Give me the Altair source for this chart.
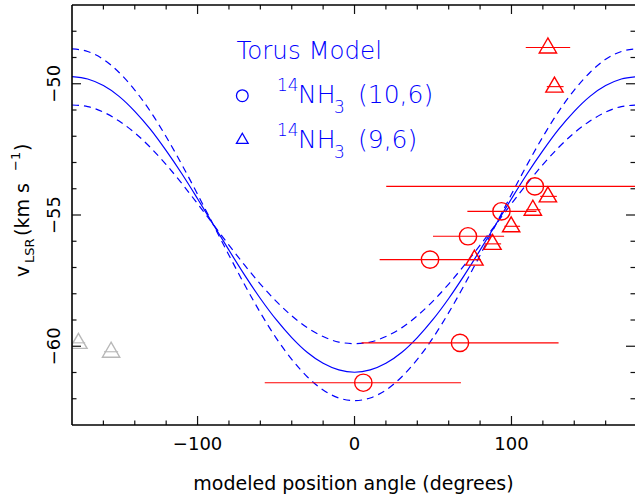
import altair as alt
import pandas as pd

FONT = "DejaVu Sans"
BLUE = "#0000ff"
RED = "#ff0000"
GREY = "#b8b8b8"

# ---------------- data ----------------
# torus model curves (modeled position angle, v_LSR)
pa_grid = [-180, -170, -160, -150, -140, -130, -120, -110, -100, -90,
           -80, -70, -60, -50, -40, -30, -20, -10, 0,
           10, 20, 30, 40, 50, 60, 70, 80, 90,
           100, 110, 120, 130, 140, 150, 160, 170, 180]
v_torus = [-49.73, -49.82, -50.07, -50.48, -51.05, -51.74, -52.55, -53.43, -54.38, -55.36,
           -56.34, -57.29, -58.18, -58.98, -59.67, -60.24, -60.65, -60.90, -60.99,
           -60.90, -60.65, -60.24, -59.67, -58.98, -58.18, -57.29, -56.34, -55.36,
           -54.38, -53.43, -52.55, -51.74, -51.05, -50.48, -50.07, -49.82, -49.73]
v_torus_wide = [-48.67, -48.77, -49.07, -49.57, -50.24, -51.06, -52.02, -53.08, -54.21, -55.37,
                -56.53, -57.66, -58.72, -59.68, -60.50, -61.17, -61.67, -61.97, -62.07,
                -61.97, -61.67, -61.17, -60.50, -59.68, -58.72, -57.66, -56.53, -55.37,
                -54.21, -53.08, -52.02, -51.06, -50.24, -49.57, -49.07, -48.77, -48.67]
v_torus_narrow = [-50.81, -50.87, -51.08, -51.42, -51.87, -52.43, -53.08, -53.80, -54.57, -55.36,
                  -56.15, -56.91, -57.63, -58.28, -58.84, -59.30, -59.63, -59.84, -59.90,
                  -59.84, -59.63, -59.30, -58.84, -58.28, -57.63, -56.91, -56.15, -55.36,
                  -54.57, -53.80, -53.08, -52.43, -51.87, -51.42, -51.08, -50.87, -50.81]

# 14NH3 (10,6) circles
c106_pa = [5.6, 67.2, 48.1, 72.3, 93.6, 114.9]
c106_v = [-61.39, -59.87, -56.70, -55.81, -54.86, -53.91]
c106_lo = [-57.2, 4.5, 16.0, 50.0, 71.9, 20.2]
c106_hi = [67.8, 130.0, 80.0, 95.3, 115.9, 209.6]

# 14NH3 (9,6) triangles
t96_pa = [123.2, 127.4, 123.2, 113.6, 99.8, 87.9, 76.4]
t96_v = [-48.62, -50.11, -54.29, -54.80, -55.43, -56.10, -56.70]
t96_lo = [109.1, 122.5, 118.3, 109.5, 95.5, 82.8, 72.5]
t96_hi = [137.4, 133.2, 128.9, 118.5, 105.5, 93.4, 80.5]

# grey (9,6) triangles
grey_pa = [-175.9, -155.1]
grey_v = [-59.87, -60.21]
grey_lo = [-180.0, -159.6]
grey_hi = [-171.6, -150.6]

# axis ticks and tick labels
x_major = [-100, 0, 100]
x_major_labels = ["\u2212100", "0", "100"]
x_minor = [-160, -140, -120, -80, -60, -40, -20, 20, 40, 60, 80, 120, 140, 160]
y_major = [-60, -55, -50]
y_major_labels = ["\u221260", "\u221255", "\u221250"]
y_minor = [-62, -61, -59, -58, -57, -56, -54, -53, -52, -51, -49, -48]

# ---------------- chart ----------------
W, H = 563, 420
xs = alt.Scale(domain=[-180, 178.7], nice=False, zero=False)
ys = alt.Scale(domain=[-63, -47], nice=False, zero=False)


def X(f):
    return alt.X(f, scale=xs, axis=None)


def Y(f):
    return alt.Y(f, scale=ys, axis=None)


solid_df = pd.DataFrame({"pa": pa_grid, "v": v_torus})
dash_df = pd.DataFrame({"pa": pa_grid * 2, "v": v_torus_wide + v_torus_narrow,
                        "m": ["wide"] * len(pa_grid) + ["narrow"] * len(pa_grid)})

solid = alt.Chart(solid_df).mark_line(color=BLUE, strokeWidth=1.2, interpolate="monotone", clip=True).encode(
    x=X("pa:Q"), y=Y("v:Q"))
dashed = alt.Chart(dash_df).mark_line(color=BLUE, strokeWidth=1.2, strokeDash=[7, 5],
                                      interpolate="monotone", clip=True).encode(
    x=X("pa:Q"), y=Y("v:Q"), detail="m:N")

c_df = pd.DataFrame({"pa": c106_pa, "v": c106_v, "lo": c106_lo, "hi": c106_hi})
t_df = pd.DataFrame({"pa": t96_pa, "v": t96_v, "lo": t96_lo, "hi": t96_hi})
g_df = pd.DataFrame({"pa": grey_pa, "v": grey_v, "lo": grey_lo, "hi": grey_hi})


def bars(df, color):
    return alt.Chart(df).mark_rule(color=color, strokeWidth=1.1, clip=True).encode(
        x=X("lo:Q"), x2="hi:Q", y=Y("v:Q"))


def pts(df, color, shape, yoff=0):
    return alt.Chart(df).mark_point(shape=shape, filled=False, size=300, strokeWidth=1.4,
                                    color=color, opacity=1, yOffset=yoff, clip=True).encode(
        x=X("pa:Q"), y=Y("v:Q"))


one = alt.Data(values=[{"a": 1}])


def txt(s, x, y, size, color, angle=0, weight="normal"):
    return alt.Chart(one).mark_text(text=s, font=FONT, fontSize=size, color=color, angle=angle,
                                    align="left", baseline="alphabetic", fontWeight=weight).encode(
        x=alt.value(x), y=alt.value(y))


def sym(shape, x, y):
    return alt.Chart(one).mark_point(shape=shape, filled=False, size=137, strokeWidth=1.3,
                                     color=BLUE, opacity=1).encode(x=alt.value(x), y=alt.value(y))


LW = 300
legend = [
    txt("Torus Model", 164.5, 54, 24.5, BLUE, weight=LW),
    sym("circle", 170.3, 90.7),
    txt("14", 205, 86, 17, BLUE, weight=LW), txt("NH", 226, 98.3, 25, BLUE, weight=LW),
    txt("3", 262, 108, 17, BLUE, weight=LW), txt("(10,6)", 286, 98.3, 25, BLUE, weight=LW),
    sym("triangle-up", 170.3, 133.3),
    txt("14", 205, 131, 17, BLUE, weight=LW), txt("NH", 226, 143.3, 25, BLUE, weight=LW),
    txt("3", 262, 152.7, 17, BLUE, weight=LW), txt("(9,6)", 286, 143.3, 25, BLUE, weight=LW),
]

titles = [
    alt.Chart(one).mark_text(text="modeled position angle (degrees)", font=FONT, fontSize=19,
                             color="black", align="center", baseline="alphabetic").encode(
        x=alt.value(W / 2), y=alt.value(485)),
    txt("v", -43.5, 272, 19, "black", 270),
    txt("LSR", -38.5, 258, 13, "black", 270),
    txt("(km  s", -43.5, 231, 19, "black", 270),
    txt("\u22121", -52, 166, 13, "black", 270),
    txt(")", -43.5, 146, 19, "black", 270),
]

xlab_df = pd.DataFrame({"t": x_major, "lab": x_major_labels})
ylab_df = pd.DataFrame({"t": y_major, "lab": y_major_labels})
tick_labels = [
    alt.Chart(xlab_df).mark_text(font=FONT, fontSize=18, color="black", align="center",
                                 baseline="alphabetic").encode(
        x=X("t:Q"), y=alt.value(H + 24.5), text="lab:N"),
    alt.Chart(ylab_df).mark_text(font=FONT, fontSize=18, color="black", align="center",
                                 baseline="alphabetic", angle=270).encode(
        y=Y("t:Q"), x=alt.value(-12), text="lab:N"),
]


def xticks(vals, length):
    df = pd.DataFrame({"t": vals})
    bot = alt.Chart(df).mark_rule(color="#111", strokeWidth=1.2).encode(
        x=X("t:Q"), y=alt.value(H), y2=alt.value(H - length))
    top = alt.Chart(df).mark_rule(color="#111", strokeWidth=1.2).encode(
        x=X("t:Q"), y=alt.value(0), y2=alt.value(length))
    return [bot, top]


def yticks(vals, length):
    df = pd.DataFrame({"t": vals})
    left = alt.Chart(df).mark_rule(color="#111", strokeWidth=1.2).encode(
        y=Y("t:Q"), x=alt.value(0), x2=alt.value(length))
    right = alt.Chart(df).mark_rule(color="#111", strokeWidth=1.2).encode(
        y=Y("t:Q"), x=alt.value(W), x2=alt.value(W - length))
    return [left, right]


frame = [
    alt.Chart(one).mark_rule(color="black", strokeWidth=1.6).encode(
        x=alt.value(0), y=alt.value(0), y2=alt.value(H)),
    alt.Chart(one).mark_rule(color="black", strokeWidth=1.6).encode(
        x=alt.value(0), x2=alt.value(W), y=alt.value(0)),
    alt.Chart(one).mark_rule(color="black", strokeWidth=1.6).encode(
        x=alt.value(0), x2=alt.value(W), y=alt.value(H)),
]

layers = ([solid, dashed,
           bars(c_df, RED), bars(t_df, RED), bars(g_df, GREY),
           pts(c_df, RED, "circle"), pts(t_df, RED, "triangle-up", -2), pts(g_df, GREY, "triangle-up", -2)]
          + legend + titles + tick_labels
          + xticks(x_major, 9) + xticks(x_minor, 4.5) + yticks(y_major, 9) + yticks(y_minor, 4.5)
          + frame)

chart = alt.layer(*layers).properties(
    width=W, height=H,
    autosize=alt.AutoSizeParams(type="none"),
    padding={"left": 72, "top": 5, "right": 0, "bottom": 71},
    background="white",
).configure_view(stroke=None)

chart.save("out.html", embed_options={"renderer": "svg", "actions": False})
